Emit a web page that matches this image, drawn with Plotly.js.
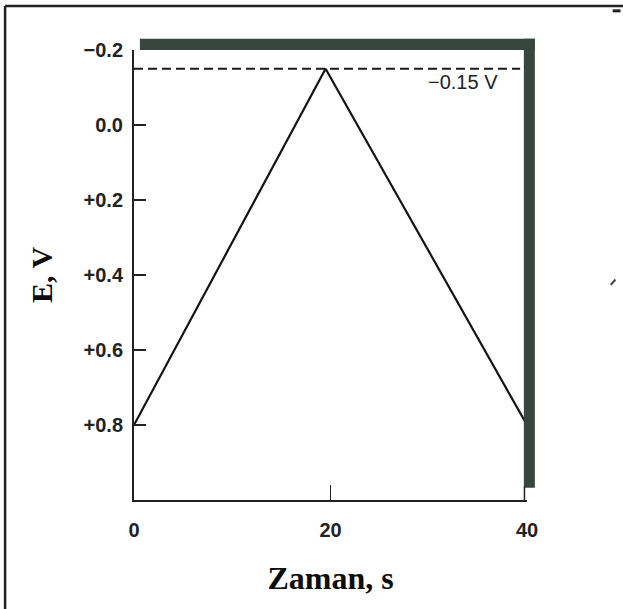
<!DOCTYPE html>
<html>
<head>
<meta charset="utf-8">
<script src="https://cdn.plot.ly/plotly-3.0.1.min.js"></script>
<style>
  html, body { margin: 0; padding: 0; background: #ffffff; }
  #grafik { width: 623px; height: 609px; }
</style>
</head>
<body>
<div id="grafik"></div>
<script>
// Üçgen potansiyel taraması (zaman - potansiyel)
const zaman = [0, 19.5, 40];
const potansiyel = [0.8, -0.15, 0.8];

// Kesikli çizgi: dönüş potansiyeli
const kesikliX = [0, 39.3];
const donusPotansiyeli = -0.15;
const donusEtiketi = '\u22120.15 V';

// Eksen etiketleri
const yTickDegerleri = [-0.2, 0.0, 0.2, 0.4, 0.6, 0.8];
const yTickYazilari = ['\u22120.2', '0.0', '+0.2', '+0.4', '+0.6', '+0.8'];
const xTickDegerleri = [0, 20, 40];
const xTickYazilari = ['0', '20', '40'];

const kalinKenar = '#38463f';

const data = [
    {
        x: kesikliX,
        y: kesikliX.map(() => donusPotansiyeli),
        type: 'scatter',
        mode: 'lines',
        line: { color: '#1a1a1a', width: 2, dash: '9px,5px' },
        hoverinfo: 'skip',
        showlegend: false
    },
    {
        x: zaman,
        y: potansiyel,
        type: 'scatter',
        mode: 'lines',
        line: { color: '#141414', width: 2.2 },
        showlegend: false
    }
];

const layout = {
    width: 623,
    height: 609,
    paper_bgcolor: '#ffffff',
    plot_bgcolor: '#ffffff',
    showlegend: false,
    margin: { l: 134, r: 96, t: 50, b: 109 },
    font: { family: 'Liberation Sans, Arial, sans-serif', color: '#1a1a1a' },
    xaxis: {
        range: [0, 40],
        tickvals: xTickDegerleri,
        ticktext: xTickYazilari,
        ticks: 'inside',
        ticklen: 15,
        tickwidth: 1.5,
        tickcolor: '#222',
        ticklabelstandoff: 11,
        tickfont: { size: 20, weight: 'bold', color: '#222' },
        showline: true,
        linecolor: '#222',
        linewidth: 2,
        showgrid: false,
        zeroline: false,
        title: {
            text: 'Zaman, s',
            standoff: 27,
            font: { family: 'Liberation Serif, Times New Roman, serif', size: 32, weight: 'bold', color: '#0d0d0d' }
        }
    },
    yaxis: {
        range: [1.0, -0.2],
        tickvals: yTickDegerleri,
        ticktext: yTickYazilari,
        ticks: 'inside',
        ticklen: 12,
        tickwidth: 2,
        tickcolor: '#222',
        ticklabelstandoff: 5,
        tickfont: { size: 20, weight: 'bold', color: '#222' },
        showline: true,
        linecolor: '#222',
        linewidth: 2,
        showgrid: false,
        zeroline: false,
        title: {
            text: 'E, V',
            standoff: 22,
            font: { family: 'Liberation Serif, Times New Roman, serif', size: 30, weight: 'bold', color: '#0d0d0d' }
        }
    },
    annotations: [
        {
            x: 37.3,
            y: -0.115,
            xref: 'x',
            yref: 'y',
            text: donusEtiketi,
            showarrow: false,
            xanchor: 'right',
            yanchor: 'middle',
            font: { size: 20, color: '#222', family: 'Liberation Sans, sans-serif' }
        }
    ],
    shapes: [
        // kalın üst kenar
        { type: 'rect', xref: 'paper', yref: 'paper', x0: 0.015, x1: 1.02, y0: 1.0, y1: 1.025,
          fillcolor: kalinKenar, line: { width: 0 } },
        // kalın sağ kenar
        { type: 'rect', xref: 'paper', yref: 'paper', x0: 0.992, x1: 1.02, y0: 0.027, y1: 1.025,
          fillcolor: kalinKenar, line: { width: 0 } },
        // ince sağ eksen parçası
        { type: 'line', xref: 'paper', yref: 'paper', x0: 0.9935, x1: 0.9935, y0: 0, y1: 0.03,
          line: { color: '#222', width: 1.5 } },
        // dış çerçeve: sol
        { type: 'line', xref: 'paper', yref: 'paper', x0: -0.328, x1: -0.328, y0: -0.25, y1: 1.098,
          line: { color: '#222', width: 2.5 } },
        // dış çerçeve: üst
        { type: 'line', xref: 'paper', yref: 'paper', x0: -0.328, x1: 1.245, y0: 1.098, y1: 1.098,
          line: { color: '#222', width: 2.5 } },
        // tarama izleri
        { type: 'line', xref: 'paper', yref: 'paper', x0: 1.218, x1: 1.238, y0: 1.087, y1: 1.087,
          line: { color: '#222', width: 3 } },
        { type: 'line', xref: 'paper', yref: 'paper', x0: 1.213, x1: 1.225, y0: 0.478, y1: 0.49,
          line: { color: '#444', width: 2 } }
    ]
};

Plotly.newPlot('grafik', data, layout, { displayModeBar: false, staticPlot: true });
</script>
</body>
</html>
